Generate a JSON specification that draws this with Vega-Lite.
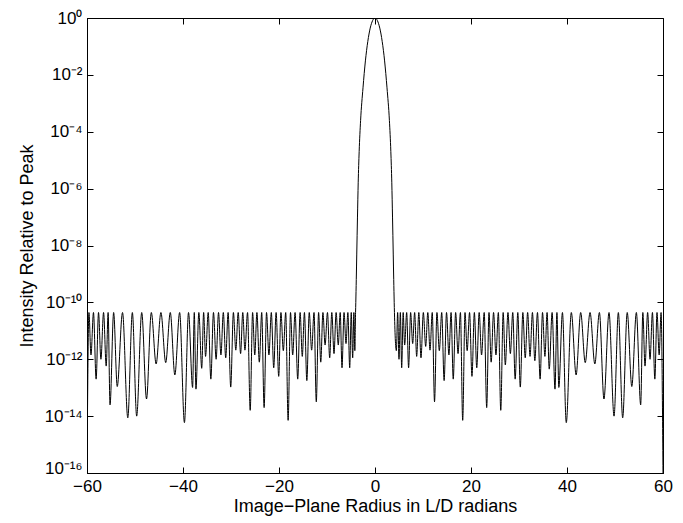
{
"$schema": "https://vega.github.io/schema/vega-lite/v6.json",
"width": 576, "height": 455,
"autosize": {"type": "none"},
"padding": {"left": 87, "top": 18, "right": 20, "bottom": 50},
"background": "white",
"config": {
 "view": {"stroke": "black", "strokeWidth": 1},
 "font": "Liberation Sans",
 "axis": {"domainColor": "black", "labelColor": "black", "titleColor": "black", "ticks": false, "labelFlush": false, "labelOverlap": false, "grid": true, "gridColor": "black", "gridOpacity": 1, "gridWidth": 1, "labelFont": "Liberation Sans", "titleFont": "Liberation Sans", "labelFontSize": 17, "titleFontSize": 18, "titleFontWeight": "normal"}
},
"data": {"values": [
{"x":-60,"y":1e-16},{"x":-59.6,"y":4.4e-11},{"x":-59.17,"y":1.41e-12},{"x":-58.65,"y":4.4e-11},{"x":-58.1,"y":2.0e-13},{"x":-57.6,"y":4.4e-11},{"x":-57.1,"y":1.0e-12},{"x":-56.55,"y":4.4e-11},{"x":-56.0,"y":5.75e-13},{"x":-55.6,"y":4.4e-11},{"x":-55.2,"y":2.5e-14},{"x":-54.45,"y":4.4e-11},{"x":-53.7,"y":1.1e-13},{"x":-52.6,"y":4.4e-11},{"x":-51.5,"y":8.7e-15},{"x":-50.55,"y":4.4e-11},{"x":-49.65,"y":1.0e-14},{"x":-48.6,"y":4.4e-11},{"x":-47.6,"y":4.0e-14},{"x":-46.6,"y":4.4e-11},{"x":-45.6,"y":6.8e-13},{"x":-44.6,"y":4.4e-11},{"x":-43.6,"y":7.6e-13},{"x":-42.65,"y":4.4e-11},{"x":-41.7,"y":2.8e-13},{"x":-40.7,"y":4.4e-11},{"x":-39.7,"y":5.9e-15},{"x":-38.85,"y":4.4e-11},{"x":-38.0,"y":1.02e-13},{"x":-37.65,"y":4.4e-11},{"x":-37.3,"y":8.9e-14},{"x":-36.7,"y":4.4e-11},{"x":-36.1,"y":4.8e-13},{"x":-35.7,"y":4.4e-11},{"x":-35.3,"y":1.26e-12},{"x":-34.75,"y":4.4e-11},{"x":-34.2,"y":2.0e-13},{"x":-33.65,"y":4.4e-11},{"x":-33.1,"y":1.0e-12},{"x":-32.6,"y":4.4e-11},{"x":-32.1,"y":1.41e-12},{"x":-31.6,"y":4.4e-11},{"x":-31.1,"y":1.12e-12},{"x":-30.6,"y":4.4e-11},{"x":-30.06,"y":1.05e-13},{"x":-29.5,"y":4.4e-11},{"x":-29.0,"y":2.09e-12},{"x":-28.5,"y":4.4e-11},{"x":-28.0,"y":1.58e-12},{"x":-27.55,"y":4.4e-11},{"x":-27.1,"y":2.09e-12},{"x":-26.55,"y":4.4e-11},{"x":-26.0,"y":1.6e-14},{"x":-25.5,"y":4.4e-11},{"x":-25.05,"y":1.41e-12},{"x":-24.6,"y":4.4e-11},{"x":-24.1,"y":7.9e-13},{"x":-23.6,"y":4.4e-11},{"x":-23.1,"y":2.0e-14},{"x":-22.6,"y":4.4e-11},{"x":-22.1,"y":1.41e-12},{"x":-21.6,"y":4.4e-11},{"x":-21.1,"y":5.0e-13},{"x":-20.6,"y":4.4e-11},{"x":-20.06,"y":2.5e-13},{"x":-19.6,"y":4.4e-11},{"x":-19.1,"y":2.0e-12},{"x":-18.6,"y":4.4e-11},{"x":-18.1,"y":7.1e-15},{"x":-17.6,"y":4.4e-11},{"x":-17.15,"y":1.41e-12},{"x":-16.65,"y":4.4e-11},{"x":-16.1,"y":2.0e-13},{"x":-15.6,"y":4.4e-11},{"x":-15.15,"y":1.26e-12},{"x":-14.7,"y":4.4e-11},{"x":-14.2,"y":1.78e-13},{"x":-13.7,"y":4.4e-11},{"x":-13.2,"y":2.09e-12},{"x":-12.7,"y":4.4e-11},{"x":-12.23,"y":3.2e-14},{"x":-11.75,"y":4.4e-11},{"x":-11.3,"y":7.9e-13},{"x":-10.85,"y":4.4e-11},{"x":-10.4,"y":3.16e-12},{"x":-9.9,"y":4.4e-11},{"x":-9.44,"y":1.12e-12},{"x":-9.0,"y":4.4e-11},{"x":-8.54,"y":1.58e-12},{"x":-8.1,"y":4.4e-11},{"x":-7.65,"y":3.16e-12},{"x":-7.25,"y":4.4e-11},{"x":-6.875,"y":5.0e-13},{"x":-6.45,"y":4.4e-11},{"x":-6.04,"y":3.55e-12},{"x":-5.65,"y":4.4e-11},{"x":-5.27,"y":5.0e-13},{"x":-4.95,"y":4.4e-11},{"x":-4.65,"y":1.12e-12},{"x":-4.4,"y":4.4e-11},{"x":-4.2,"y":2.0e-12},{"x":-4.05,"y":4.4e-11},
{"x":-4.0,"y":1e-10},{"x":-3.9,"y":6.3e-10},{"x":-3.8,"y":5e-9},{"x":-3.65,"y":1e-7},{"x":-3.5,"y":1.6e-6},{"x":-3.3,"y":2e-5},{"x":-3.0,"y":2.5e-4},{"x":-2.5,"y":3.5e-3},{"x":-2.0,"y":0.031},{"x":-1.5,"y":0.15},{"x":-1.0,"y":0.44},{"x":-0.5,"y":0.81},{"x":0,"y":1},
{"x":0.5,"y":0.81},{"x":1.0,"y":0.44},{"x":1.5,"y":0.15},{"x":2.0,"y":0.031},{"x":2.5,"y":3.5e-3},{"x":3.0,"y":2.5e-4},{"x":3.3,"y":2e-5},{"x":3.5,"y":1.6e-6},{"x":3.65,"y":1e-7},{"x":3.8,"y":5e-9},{"x":3.9,"y":6.3e-10},{"x":4.0,"y":1e-10},
{"x":4.05,"y":4.4e-11},{"x":4.45,"y":2.0e-12},{"x":4.72,"y":4.4e-11},{"x":5.0,"y":1.0e-12},{"x":5.28,"y":4.4e-11},{"x":5.56,"y":5.0e-13},{"x":5.87,"y":4.4e-11},{"x":6.18,"y":3.16e-12},{"x":6.6,"y":4.4e-11},{"x":7.0,"y":5.0e-13},{"x":7.42,"y":4.4e-11},{"x":7.85,"y":3.55e-12},{"x":8.26,"y":4.4e-11},{"x":8.68,"y":1.26e-12},{"x":9.13,"y":4.4e-11},{"x":9.58,"y":1.12e-12},{"x":10.07,"y":4.4e-11},{"x":10.56,"y":2.82e-12},{"x":11.0,"y":4.4e-11},{"x":11.46,"y":2.09e-12},{"x":11.93,"y":4.4e-11},{"x":12.4,"y":3.2e-14},{"x":12.9,"y":4.4e-11},{"x":13.4,"y":2.0e-12},{"x":13.9,"y":4.4e-11},{"x":14.4,"y":1.78e-13},{"x":14.9,"y":4.4e-11},{"x":15.4,"y":1.41e-12},{"x":15.85,"y":4.4e-11},{"x":16.3,"y":2.0e-13},{"x":16.8,"y":4.4e-11},{"x":17.3,"y":1.58e-12},{"x":17.8,"y":4.4e-11},{"x":18.27,"y":7.1e-15},{"x":18.75,"y":4.4e-11},{"x":19.2,"y":2.0e-12},{"x":19.7,"y":4.4e-11},{"x":20.2,"y":2.5e-13},{"x":20.7,"y":4.4e-11},{"x":21.2,"y":5.0e-13},{"x":21.7,"y":4.4e-11},{"x":22.2,"y":1.41e-12},{"x":22.75,"y":4.4e-11},{"x":23.27,"y":2.0e-14},{"x":23.75,"y":4.4e-11},{"x":24.2,"y":7.9e-13},{"x":24.7,"y":4.4e-11},{"x":25.2,"y":1.41e-12},{"x":25.7,"y":4.4e-11},{"x":26.2,"y":1.6e-14},{"x":26.7,"y":4.4e-11},{"x":27.15,"y":6.3e-13},{"x":27.7,"y":4.4e-11},{"x":28.2,"y":1.58e-12},{"x":28.7,"y":4.4e-11},{"x":29.2,"y":2.0e-13},{"x":29.75,"y":4.4e-11},{"x":30.27,"y":1.05e-13},{"x":30.8,"y":4.4e-11},{"x":31.3,"y":1.12e-12},{"x":31.8,"y":4.4e-11},{"x":32.3,"y":1.26e-12},{"x":32.8,"y":4.4e-11},{"x":33.3,"y":8.9e-13},{"x":33.85,"y":4.4e-11},{"x":34.4,"y":2.0e-13},{"x":34.9,"y":4.4e-11},{"x":35.4,"y":1.26e-12},{"x":35.85,"y":4.4e-11},{"x":36.3,"y":4.5e-13},{"x":36.9,"y":4.4e-11},{"x":37.5,"y":8.9e-14},{"x":37.9,"y":4.4e-11},{"x":38.3,"y":1.02e-13},{"x":39.05,"y":4.4e-11},{"x":39.85,"y":5.9e-15},{"x":40.9,"y":4.4e-11},{"x":41.9,"y":2.8e-13},{"x":42.85,"y":4.4e-11},{"x":43.8,"y":7.6e-13},{"x":44.8,"y":4.4e-11},{"x":45.8,"y":6.8e-13},{"x":46.75,"y":4.4e-11},{"x":47.7,"y":4.0e-14},{"x":48.75,"y":4.4e-11},{"x":49.8,"y":1.0e-14},{"x":50.7,"y":4.4e-11},{"x":51.6,"y":8.7e-15},{"x":52.55,"y":4.4e-11},{"x":53.5,"y":1.1e-13},{"x":54.45,"y":4.4e-11},{"x":55.35,"y":2.5e-14},{"x":55.8,"y":4.4e-11},{"x":56.25,"y":5.75e-13},{"x":56.8,"y":4.4e-11},{"x":57.3,"y":1.0e-12},{"x":57.8,"y":4.4e-11},{"x":58.3,"y":2.0e-13},{"x":58.75,"y":4.4e-11},{"x":59.2,"y":1.41e-12},{"x":59.6,"y":4.4e-11},{"x":60,"y":1e-16}
]},
"mark": {"type": "line", "color": "black", "strokeWidth": 1, "interpolate": "monotone", "clip": true},
"encoding": {
 "x": {"field": "x", "type": "quantitative", "scale": {"domain": [-60, 60], "nice": false, "zero": false},
   "axis": {"orient": "bottom", "values": [-60, -40, -20, 0, 20, 40, 60], "format": "d", "labelPadding": 5, "gridDash": [6, 443], "title": "Image−Plane Radius in L/D radians", "titlePadding": 3}},
 "y": {"field": "y", "type": "quantitative", "scale": {"type": "log", "domain": [1e-16, 1]},
   "axis": {"orient": "left", "values": [1e-16, 1e-14, 1e-12, 1e-10, 1e-8, 1e-6, 1e-4, 1e-2, 1], "labelPadding": 5, "gridDash": [6, 564], "labelBaseline": {"condition": {"test": "datum.value < 1e-15", "value": "alphabetic"}, "value": "middle"}, "labelExpr": "['10⁰','10⁻²','10⁻⁴','10⁻⁶','10⁻⁸','10⁻¹⁰','10⁻¹²','10⁻¹⁴','10⁻¹⁶'][round(-log(datum.value)/LN10/2)]", "title": "Intensity Relative to Peak", "titlePadding": 8}}
}
}
